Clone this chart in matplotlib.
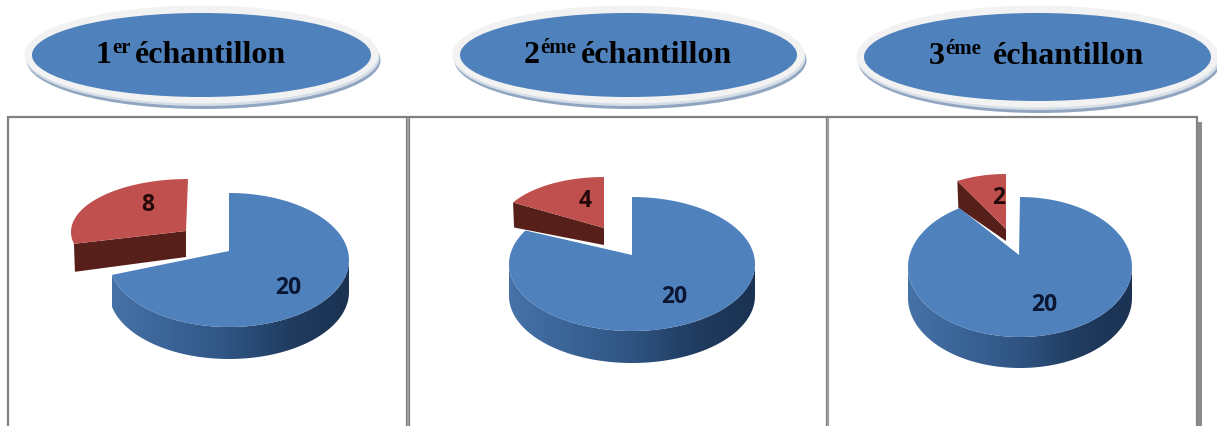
import numpy as np
import matplotlib
matplotlib.use('Agg')
import matplotlib.pyplot as plt
from matplotlib.patches import Ellipse, Polygon, Rectangle
from matplotlib.colors import LinearSegmentedColormap

# values of the three samples
blue_values = [20, 20, 20]
red_values = [8, 4, 2]
numbers = ['1', '2', '3']
suffixes = ['er', 'éme', 'éme']
word = 'échantillon'

BLUE = '#4f81bd'
RED = '#c0504d'
RED_SIDE = '#571f1a'
LABEL_BLUE = '#0b1633'
LABEL_RED = '#25080a'

# layout, in pixels: cx, cy, rx, ry, apex x, apex y, depth
blue_geo = [(229, 261, 120, 67, 229, 252, 32),
            (632, 265, 123, 67, 632, 256, 32),
            (1020, 268, 112, 70, 1019, 256, 31)]
# cx, cy, rx, ry, apex x, apex y, depth at apex, depth at rim
red_geo = [(188, 233, 117, 53, 186, 232, 26, 28),
           (604, 229, 105, 51, 604, 229, 17, 25),
           (1006, 219, 90, 44, 1006, 230, 12, 27)]
label_pos = [((148, 205), (288, 288)),
             ((585, 201), (674, 297)),
             ((999, 198), (1044, 305))]
# oval: x0, x1, y0, y1 of the blue part
ovals = [(32, 371, 14, 98), (460, 797, 14, 98), (864, 1211, 14, 102)]
title_x = [96, 524, 929]
title_gap = [5, 5, 12]
title_y = [63, 63, 64]

fig = plt.figure(figsize=(12.17, 4.27), dpi=100)
ax = fig.add_axes([0, 0, 1, 1])
ax.set_xlim(0, 1217)
ax.set_ylim(427, 0)
ax.axis('off')

side_cmap = LinearSegmentedColormap.from_list(
    'side', ['#4672a8', '#3a6396', '#2f5482', '#203c60', '#1b3252'])


def rim(geo, t):
    return np.column_stack([geo[0] + geo[2] * np.cos(np.radians(t)),
                            geo[1] - geo[3] * np.sin(np.radians(t))])


def draw_pie(blue, red, bgeo, rgeo):
    total = blue + red
    blue_angle = 360 * blue / total
    red_angle = 360 * red / total

    # red slice, pulled out of the pie
    t = np.linspace(90 + red_angle, 90, 80)
    top = rim(rgeo, t)
    apex = np.array([rgeo[4], rgeo[5]])
    side = [top[0], apex, apex + [0, rgeo[6]], top[0] + [1, rgeo[7]]]
    ax.add_patch(Polygon(side, fc=RED_SIDE, ec='none', zorder=2))
    ax.add_patch(Polygon(np.vstack([apex, top]), fc=RED, ec='none', zorder=3))

    # blue wall with the shading
    depth = bgeo[6]
    t = np.linspace(max(-180, 90 - blue_angle), 0, 120)
    upper = rim(bgeo, t)
    lower = upper + [0, depth]
    wall = Polygon(np.vstack([upper, lower[::-1]]), fc='none', ec='none', zorder=4)
    ax.add_patch(wall)
    x0, x1 = upper[:, 0].min(), upper[:, 0].max()
    im = ax.imshow(np.linspace(0, 1, 256).reshape(1, -1), cmap=side_cmap, aspect='auto',
                   extent=(x0, x1, lower[:, 1].max(), upper[:, 1].min()), zorder=4)
    im.set_clip_path(wall)

    # blue top
    t = np.linspace(90, 90 - blue_angle, 200)
    top = rim(bgeo, t)
    ax.add_patch(Polygon(np.vstack([[bgeo[4], bgeo[5]], top]), fc=BLUE, ec='none', zorder=5))


def draw_oval(box):
    x0, x1, y0, y1 = box
    xc, yc = (x0 + x1) / 2, (y0 + y1) / 2
    w, h = x1 - x0, y1 - y0
    ax.add_patch(Ellipse((xc + 2, yc + 5), w + 15, h + 14, fc='#8fa5c0', ec='none', zorder=1))
    ax.add_patch(Ellipse((xc + 1, yc + 2.5), w + 15, h + 13, fc='#d5dde7', ec='none', zorder=1))
    ax.add_patch(Ellipse((xc, yc - 0.5), w + 15, h + 14, fc='#f2f2f2', ec='none', zorder=2))
    ax.add_patch(Ellipse((xc, yc), w, h, fc=BLUE, ec='none', zorder=3))


def draw_title(x, y, num, sup, gap):
    rend = fig.canvas.get_renderer()
    inv = ax.transData.inverted()
    font = dict(family='Liberation Serif', weight='bold', color='black', zorder=6)
    t1 = ax.text(x, y, num, fontsize=23, ha='left', va='baseline', **font)
    end = inv.transform(t1.get_window_extent(rend).get_points())[1, 0]
    t2 = ax.text(end, y - 10, sup, fontsize=15, ha='left', va='baseline', **font)
    end = inv.transform(t2.get_window_extent(rend).get_points())[1, 0]
    ax.text(end + gap, y, word, fontsize=23, ha='left', va='baseline', **font)


# frames
for x0, x1, y0, y1 in [(8, 407, 118, 430), (409, 827, 118, 430), (828, 1197, 118, 430)]:
    ax.plot([x0, x0, x1, x1], [y1, y0, y0, y1], color='#808080', lw=1.6, zorder=1,
            solid_joinstyle='miter')
ax.add_patch(Rectangle((1197, 123), 5, 310, fc='#8a8a8a', ec='none', zorder=1))
ax.add_patch(Rectangle((407, 119), 2, 310, fc='#a0a0a0', ec='none', zorder=1))
ax.add_patch(Rectangle((827, 119), 2, 310, fc='#a0a0a0', ec='none', zorder=1))

label_font = ['Liberation Sans Narrow', 'Open Sans']
for i in range(3):
    draw_oval(ovals[i])
    draw_title(title_x[i], title_y[i], numbers[i], suffixes[i], title_gap[i])
    draw_pie(blue_values[i], red_values[i], blue_geo[i], red_geo[i])
    red_xy, blue_xy = label_pos[i]
    ax.text(red_xy[0], red_xy[1], str(red_values[i]), fontsize=16.5, family=label_font, weight='bold',
            color=LABEL_RED, ha='center', va='center', zorder=7)
    ax.text(blue_xy[0], blue_xy[1], str(blue_values[i]), fontsize=16.5, family=label_font, weight='bold',
            color=LABEL_BLUE, ha='center', va='center', zorder=7)

ax.set_xlim(0, 1217)
ax.set_ylim(427, 0)
fig.savefig('out.png', dpi=100)
